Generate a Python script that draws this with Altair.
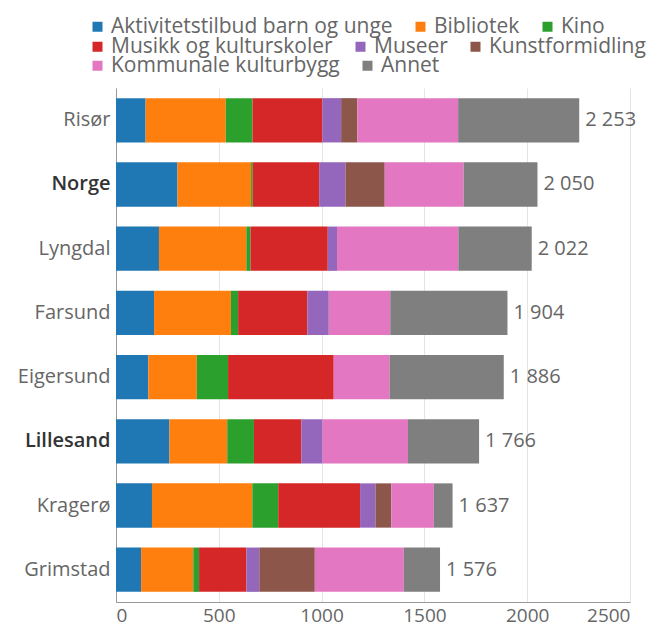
import altair as alt
import pandas as pd

cities = ["Risør", "Norge", "Lyngdal", "Farsund", "Eigersund", "Lillesand", "Kragerø", "Grimstad"]
categories = ["Aktivitetstilbud barn og unge", "Bibliotek", "Kino", "Musikk og kulturskoler",
              "Museer", "Kunstformidling", "Kommunale kulturbygg", "Annet"]
colors = ["#1f77b4", "#ff7f0e", "#2ca02c", "#d62728", "#9467bd", "#8c564b", "#e377c2", "#7f7f7f"]
legend_rows = [[0, 1, 2], [3, 4, 5], [6, 7]]

aktivitet = [144, 299, 209, 185, 157, 260, 175, 122]
bibliotek = [390, 358, 425, 374, 236, 281, 488, 254]
kino = [130, 8, 20, 35, 152, 130, 126, 28]
musikk = [340, 323, 376, 337, 514, 230, 398, 230]
museer = [91, 128, 45, 104, 0, 104, 75, 63]
kunst = [79, 191, 0, 0, 0, 0, 77, 270]
kulturbygg = [490, 384, 590, 299, 272, 415, 207, 433]
annet = [589, 359, 357, 570, 555, 346, 91, 176]

tick_values = [0, 500, 1000, 1500, 2000, 2500]

series = [aktivitet, bibliotek, kino, musikk, museer, kunst, kulturbygg, annet]
rows = []
for ci, (cat, vals) in enumerate(zip(categories, series)):
    for city, v in zip(cities, vals):
        rows.append({"kommune": city, "kategori": cat, "verdi": v, "rekkefolge": ci})
df = pd.DataFrame(rows)

FONT = "Open Sans"
HILITE = "indexof(['Norge','Lillesand'], datum.value) >= 0"

x_enc = alt.X("x0:Q", title=None, scale=alt.Scale(domain=[0, 2500], nice=False),
              axis=alt.Axis(values=tick_values, format="d", ticks=False,
                            labelFontSize=19, labelPadding=4, labelColor="#666",
                            domainColor="#999", gridColor="#e4e4e4"))
y_enc = alt.Y("kommune:N", sort=cities, title=None,
              scale=alt.Scale(paddingInner=0.31, paddingOuter=0.158),
              axis=alt.Axis(ticks=False, domainColor="#999", labelFontSize=20, labelPadding=6,
                            labelColor=alt.expr(HILITE + " ? '#333' : '#666'"),
                            labelFontWeight=alt.expr(HILITE + " ? 600 : 400")))

legend_y = [-72, -52, -33]

base = alt.Chart(df).transform_stack(
    stack="verdi", groupby=["kommune"], sort=[alt.SortField("rekkefolge")], as_=["x0", "x1"]
)

layers = []
for r, idxs in enumerate(legend_rows):
    cats = [categories[i] for i in idxs]
    cols = [colors[i] for i in idxs]
    layers.append(
        base.transform_filter(alt.FieldOneOfPredicate(field="kategori", oneOf=cats))
        .mark_bar()
        .encode(
            x=x_enc, x2="x1:Q", y=y_enc,
            color=alt.Color("kategori:N", scale=alt.Scale(domain=cats, range=cols),
                            legend=alt.Legend(title=None, orient="none", legendX=-29, legendY=legend_y[r],
                                              direction="horizontal", padding=0,
                                              symbolType="square", symbolSize=100, symbolStrokeWidth=0,
                                              labelFontSize=21, labelColor="#666", labelOffset=3,
                                              columnPadding=17, labelLimit=400)),
        )
    )

labels = alt.Chart(df).transform_aggregate(
    total="sum(verdi)", groupby=["kommune"]
).transform_calculate(
    etikett="replace(format(datum.total, ','), ',', ' ')"
).mark_text(align="left", baseline="middle", dx=6, fontSize=20, color="#666", font=FONT).encode(
    x=alt.X("total:Q"),
    y=alt.Y("kommune:N", sort=cities),
    text="etikett:N",
)

chart = alt.layer(*layers, labels).resolve_scale(color="independent").properties(
    width=514, height=514,
    autosize=alt.AutoSizeParams(type="none"),
    padding={"left": 108, "top": 80, "right": 20, "bottom": 25},
    background="#ffffff",
).configure(font=FONT).configure_view(stroke=None)

chart.save("out.html", embed_options={"renderer": "svg", "actions": False})
